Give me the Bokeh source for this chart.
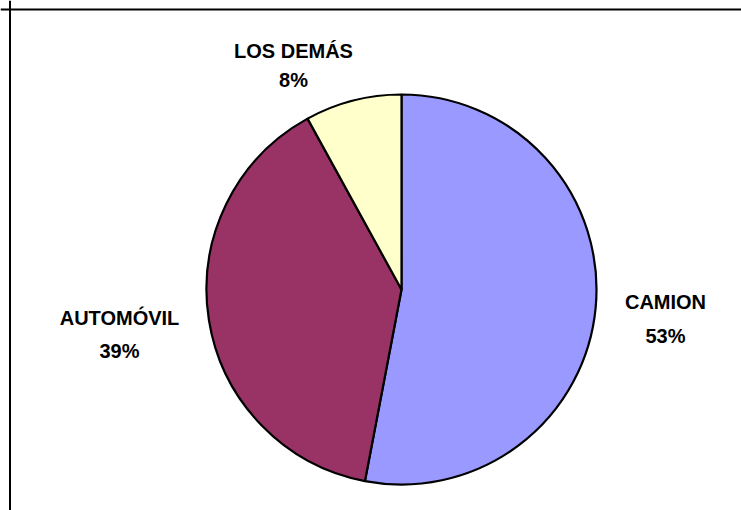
import math
from bokeh.plotting import figure
from bokeh.models import Span, ColumnDataSource
from bokeh.core.properties import value
from bokeh.embed import file_html
from bokeh.resources import INLINE

# ---- data ----
categories = ["CAMION", "AUTOMÓVIL", "LOS DEMÁS"]
shares = [53, 39, 8]
pct_labels = ["53%", "39%", "8%"]
colors = ["#9999FF", "#993366", "#FFFFCC"]

# ---- layout (pixel space of the page) ----
W, H = 741, 510
CX, CY, R = 401, 221, 195          # pie centre / radius in plot units (1 unit = 1 px)
# label anchors: x centre, name baseline, percent baseline (px from top of plot)
label_x = [665, 119, 293]
label_name_base = [301, 317, 50]
label_pct_base = [335, 350, 79]

p = figure(width=W, height=H, x_range=(0, W), y_range=(0, H),
           output_backend="svg", toolbar_location=None, min_border=0,
           background_fill_color="white", border_fill_color="white")
p.axis.visible = False
p.grid.visible = False
p.outline_line_color = None

total = float(sum(shares))
starts, ends = [], []
cum = 0.0
for s in shares:
    a0 = math.pi / 2 - 2 * math.pi * cum / total
    cum += s
    a1 = math.pi / 2 - 2 * math.pi * cum / total
    starts.append(a0)
    ends.append(a1)

src = ColumnDataSource(dict(cat=categories, val=shares, start=starts, end=ends, color=colors))
p.wedge(x=CX, y=CY, radius=R, start_angle="start", end_angle="end", direction="clock",
        fill_color="color", line_color="black", line_width=2.2, source=src)

lab = ColumnDataSource(dict(
    x=label_x,
    yn=[H - v for v in label_name_base],
    yp=[H - v for v in label_pct_base],
    name=categories, pct=pct_labels))
common = dict(text_font=value("Liberation Sans"), text_font_style="bold",
              text_font_size="20px", text_color="black", text_align="center",
              text_baseline="alphabetic", source=lab)
p.text(x="x", y="yn", text="name", **common)
p.text(x="x", y="yp", text="pct", **common)

# chart frame (only left and top edges visible in the window)
p.add_layout(Span(location=9.5, dimension="height", line_color="black", line_width=2))
p.add_layout(Span(location=H - 9, dimension="width", line_color="black", line_width=2))

open("out.html", "w").write(file_html(p, INLINE))
